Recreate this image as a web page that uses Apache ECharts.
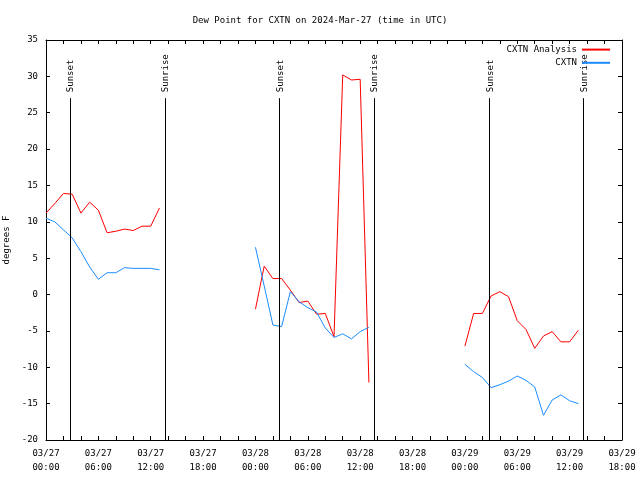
<!DOCTYPE html>
<html>
<head>
<meta charset="utf-8">
<script src="https://cdn.jsdelivr.net/npm/echarts@6/dist/echarts.min.js"></script>
<style>html,body{margin:0;padding:0;background:#fff}#c{width:640px;height:480px}</style>
</head>
<body>
<div id="c"></div>
<script>
// Hours since 2024-03-27 00:00 UTC
const hours = [];
for (let h = 0; h <= 61; h++) hours.push(h);
const analysis = [11.2,12.5,13.9,13.8,11.2,12.7,11.6,8.5,8.7,9.0,8.8,9.4,9.4,11.9,
  null,null,null,null,null,null,null,null,null,null,
  -2.0,3.9,2.2,2.2,0.6,-1.1,-0.9,-2.7,-2.6,-5.8,30.2,29.5,29.6,-12.1,
  null,null,null,null,null,null,null,null,null,null,
  -7.1,-2.6,-2.6,-0.2,0.4,-0.3,-3.6,-4.8,-7.4,-5.7,-5.1,-6.5,-6.5,-4.9];
const observed = [10.5,10.0,8.9,7.8,5.9,3.8,2.1,3.0,3.0,3.7,3.6,3.6,3.6,3.4,
  null,null,null,null,null,null,null,null,null,null,
  6.5,1.2,-4.2,-4.4,0.4,-1.0,-1.8,-2.4,-4.6,-5.9,-5.4,-6.1,-5.1,-4.5,
  null,null,null,null,null,null,null,null,null,null,
  -9.6,-10.6,-11.4,-12.8,-12.4,-11.9,-11.2,-11.8,-12.7,-16.6,-14.5,-13.8,-14.6,-15.0];
const sunEvents = [['Sunset',2.75],['Sunrise',13.65],['Sunset',26.72],['Sunrise',37.6],['Sunset',50.8],['Sunrise',61.6]];
const sunLineTop = 27;
const xMin = 0, xMax = 66, yMin = -20, yMax = 35;

const FONT = 'DejaVu Sans Mono';
const chart = echarts.init(document.getElementById('c'), null, {renderer:'canvas'});
function pair(vals){ return hours.map((h,i)=>[h, vals[i]]); }
function xlabel(v){
  if (v % 6 !== 0) return '';
  const day = 27 + Math.floor(v/24);
  const hr = v % 24;
  return '03/' + day + '\n' + (hr<10?'0':'') + hr + ':00';
}
const axisLine = {show:true, onZero:false, lineStyle:{color:'#000', width:1}};
const tick = {show:true, inside:true, length:4, lineStyle:{color:'#000'}};
chart.setOption({
  animation:false,
  backgroundColor:'#fff',
  title:{text:'Dew Point for CXTN on 2024-Mar-27 (time in UTC)', left:'center', top:11,
    textStyle:{fontFamily:FONT, fontSize:9, fontWeight:'normal', color:'#000'}},
  legend:{orient:'vertical', right:24, top:39, align:'right', itemWidth:28, itemHeight:14, itemGap:2,
    itemStyle:{opacity:0},
    textStyle:{fontFamily:FONT, fontSize:9, color:'#000'},
    data:['CXTN Analysis','CXTN']},
  grid:{left:46, right:18, top:40, bottom:40, containLabel:false, outerBoundsMode:'none'},
  xAxis:[
    {type:'value', min:xMin, max:xMax, interval:2, position:'bottom',
     axisLine, axisTick:tick, splitLine:{show:false},
     axisLabel:{formatter:xlabel, fontFamily:FONT, fontSize:9, color:'#000', margin:7, lineHeight:14}},
    {type:'value', min:xMin, max:xMax, interval:2, position:'top',
     axisLine, axisTick:tick, splitLine:{show:false}, axisLabel:{show:false}}
  ],
  yAxis:[
    {type:'value', min:yMin, max:yMax, interval:5, position:'left',
     name:'degrees F', nameLocation:'middle', nameGap:32, nameRotate:90,
     nameTextStyle:{fontFamily:FONT, fontSize:9, color:'#000'},
     axisLine, axisTick:tick, splitLine:{show:false},
     axisLabel:{fontFamily:FONT, fontSize:9, color:'#000', margin:8}},
    {type:'value', min:yMin, max:yMax, interval:5, position:'right',
     axisLine, axisTick:tick, splitLine:{show:false}, axisLabel:{show:false}}
  ],
  series:[
    {name:'sun', type:'line', data:[], silent:true,
     markLine:{symbol:'none', silent:true, animation:false, label:{show:false},
       lineStyle:{color:'#000', width:1, type:'solid'},
       data: sunEvents.map(e=>[{coord:[e[1], yMin]},{coord:[e[1], sunLineTop]}])}},
    {name:'CXTN Analysis', type:'line', data:pair(analysis), symbol:'none', connectNulls:false,
     color:'#ff0000', lineStyle:{color:'#ff0000', width:1}},
    {name:'CXTN', type:'line', data:pair(observed), symbol:'none', connectNulls:false,
     color:'#1a8cff', lineStyle:{color:'#1a8cff', width:1}}
  ]
});
const g = sunEvents.map(e=>{
  const p = chart.convertToPixel({gridIndex:0}, [e[1], sunLineTop]);
  return {type:'text', x:p[0]+1, y:p[1]-6, rotation:Math.PI/2,
    style:{text:e[0], fontFamily:FONT, fontSize:9, fill:'#000', textAlign:'left', textVerticalAlign:'middle'}};
});
chart.setOption({graphic:g});
</script>
</body>
</html>
